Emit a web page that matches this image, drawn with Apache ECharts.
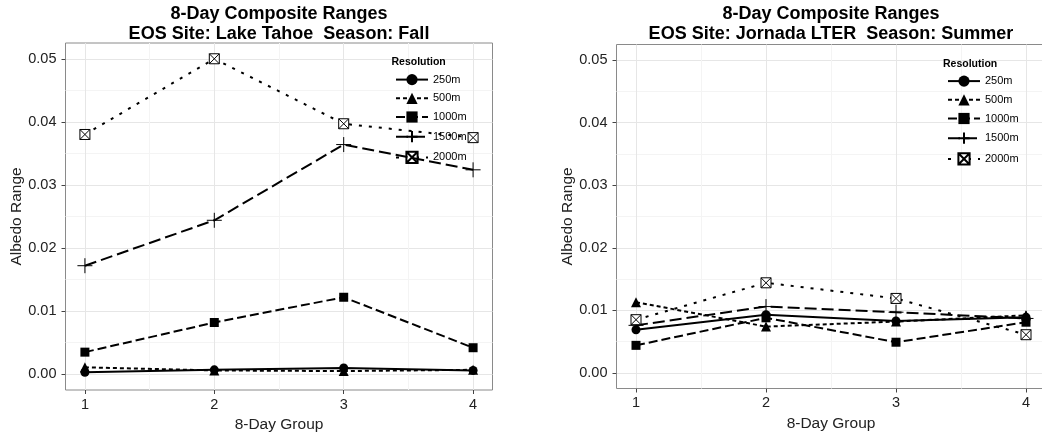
<!DOCTYPE html>
<html>
<head>
<meta charset="utf-8">
<script src="https://cdn.jsdelivr.net/npm/echarts@6/dist/echarts.min.js"></script>
<style>
  html, body { margin: 0; padding: 0; background: #ffffff; }
  #chart { width: 1042px; height: 432px; }
</style>
</head>
<body>
<div id="chart"></div>
<script>
// 8-day groups on the x axis
const groups = [1, 2, 3, 4];
const resolutions = ['250m', '500m', '1000m', '1500m', '2000m'];

// tick values (major ticks carry labels, minor ones only grid lines)
const xTicks = [1, 2, 3, 4];
const xMinorTicks = [1.5, 2.5, 3.5];
const yTicks = [0, 0.01, 0.02, 0.03, 0.04, 0.05];
const yMinorTicks = [0.005, 0.015, 0.025, 0.035, 0.045];

// Lake Tahoe, Fall: albedo range per 8-day group
const tahoe250 = [0.0003, 0.0007, 0.0010, 0.0006];
const tahoe500 = [0.0011, 0.0006, 0.0005, 0.0007];
const tahoe1000 = [0.0035, 0.0082, 0.0122, 0.0042];
const tahoe1500 = [0.0172, 0.0244, 0.0364, 0.0324];
const tahoe2000 = [0.0380, 0.0500, 0.0397, 0.0375];

// Jornada LTER, Summer: albedo range per 8-day group
const jornada250 = [0.0069, 0.0093, 0.0083, 0.0089];
const jornada500 = [0.0113, 0.0074, 0.0082, 0.0092];
const jornada1000 = [0.0044, 0.0088, 0.0049, 0.0081];
const jornada1500 = [0.0076, 0.0106, 0.0097, 0.0087];
const jornada2000 = [0.0085, 0.0144, 0.0119, 0.0061];

const panels = [
  {
    title: '8-Day Composite Ranges\nEOS Site: Lake Tahoe  Season: Fall',
    values: [tahoe250, tahoe500, tahoe1000, tahoe1500, tahoe2000]
  },
  {
    title: '8-Day Composite Ranges\nEOS Site: Jornada LTER  Season: Summer',
    values: [jornada250, jornada500, jornada1000, jornada1500, jornada2000]
  }
];

// panel geometry
const frames = [
  { left: 65.5, top: 43, width: 427, height: 347, legendLeft: 395, legendTop: 74, keyTitleLeft: 391.5, keyTitleTop: 57 },
  { left: 616.5, top: 44.5, width: 429, height: 344, legendLeft: 947, legendTop: 75.5, keyTitleLeft: 943, keyTitleTop: 59 }
];

const boxCross = 'path://M0,0L10,0L10,10L0,10ZM0,0L10,10M10,0L0,10';
const plusSign = 'path://M5,0L5,10M0,5L10,5';

const seriesLook = {
  '250m':  { symbol: 'circle',   size: 9,  dash: 'solid',  fill: '#000', border: 0 },
  '500m':  { symbol: 'triangle', size: 10, dash: [4, 3],   fill: '#000', border: 0 },
  '1000m': { symbol: 'rect',     size: 9,  dash: [9, 4],   fill: '#000', border: 0 },
  '1500m': { symbol: plusSign,   size: 15, dash: [12, 5],  fill: 'rgba(0,0,0,0)', border: 1 },
  '2000m': { symbol: boxCross,   size: 10, dash: [3, 7],   fill: '#fff', border: 1 }
};

const FONT = 'Liberation Sans, Arial, Helvetica, sans-serif';
const BORDER = '#8a8a8a';
const MAJOR = '#e6e6e6';
const MINOR = '#f4f4f4';

const grids = [], xAxes = [], yAxes = [], series = [], titles = [], legends = [];

frames.forEach((f, p) => {
  grids.push({
    left: f.left, top: f.top, width: f.width, height: f.height,
    show: true, borderColor: BORDER, borderWidth: 1, backgroundColor: '#fff',
    containLabel: false, outerBoundsMode: 'none'
  });

  // minor grid lines
  xAxes.push({
    gridIndex: p, type: 'value', min: 0.85, max: 4.15, position: 'bottom',
    axisLine: { show: false, onZero: false },
    axisTick: { show: false, customValues: xMinorTicks },
    axisLabel: { show: false },
    splitLine: { show: true, lineStyle: { color: MINOR, width: 1 } }
  });
  // major grid lines, ticks and labels
  xAxes.push({
    gridIndex: p, type: 'value', min: 0.85, max: 4.15, position: 'bottom',
    name: '8-Day Group', nameLocation: 'middle', nameGap: 18,
    nameTextStyle: { fontSize: 15.5, color: '#222', fontFamily: FONT },
    axisLine: { show: false, onZero: false },
    axisTick: { show: true, length: 4, inside: false, customValues: xTicks, lineStyle: { color: '#444' } },
    axisLabel: { show: true, customValues: xTicks, margin: 7, fontSize: 14.5, color: '#222', fontFamily: FONT,
                 formatter: v => String(Math.round(v)) },
    splitLine: { show: true, lineStyle: { color: MAJOR, width: 1 } }
  });

  yAxes.push({
    gridIndex: p, type: 'value', min: -0.0025, max: 0.0525, position: 'left',
    axisLine: { show: false, onZero: false },
    axisTick: { show: false, customValues: yMinorTicks },
    axisLabel: { show: false },
    splitLine: { show: true, lineStyle: { color: MINOR, width: 1 } }
  });
  yAxes.push({
    gridIndex: p, type: 'value', min: -0.0025, max: 0.0525, position: 'left',
    name: 'Albedo Range', nameLocation: 'middle', nameGap: p === 0 ? 40 : 36,
    nameTextStyle: { fontSize: 15.5, color: '#222', fontFamily: FONT },
    axisLine: { show: false, onZero: false },
    axisTick: { show: true, length: 4, inside: false, customValues: yTicks, lineStyle: { color: '#444' } },
    axisLabel: { show: true, customValues: yTicks, margin: 9, fontSize: 14.5, color: '#222', fontFamily: FONT,
                 formatter: v => v.toFixed(2) },
    splitLine: { show: true, lineStyle: { color: MAJOR, width: 1 } }
  });

  titles.push({
    text: panels[p].title,
    left: f.left + f.width / 2, top: 4, textAlign: 'center', padding: 0,
    textStyle: { fontSize: 18, fontWeight: 'bold', color: '#000', lineHeight: 20, fontFamily: FONT }
  });
  titles.push({
    text: 'Resolution', left: f.keyTitleLeft, top: f.keyTitleTop, padding: 0,
    textStyle: { fontSize: 10.5, fontWeight: 'bold', color: '#000', fontFamily: FONT }
  });

  legends.push({
    data: resolutions, orient: 'vertical', left: f.legendLeft, top: f.legendTop,
    padding: 0, itemWidth: 32, itemHeight: 14, itemGap: 7.5, selectedMode: false,
    textStyle: { fontSize: 11, color: '#000', fontFamily: FONT }
  });

  resolutions.forEach((r, k) => {
    const look = seriesLook[r];
    series.push({
      name: r, type: 'line',
      xAxisIndex: 2 * p + 1, yAxisIndex: 2 * p + 1,
      data: groups.map((g, i) => [g, panels[p].values[k][i]]),
      symbol: look.symbol, symbolSize: look.size, showAllSymbol: true,
      lineStyle: { color: '#000', width: 2, type: look.dash, cap: 'butt' },
      itemStyle: { color: look.fill, borderColor: '#000', borderWidth: look.border },
      emphasis: { disabled: true },
      z: 2 + k
    });
  });
});

const chart = echarts.init(document.getElementById('chart'), null, { renderer: 'canvas' });
chart.setOption({
  animation: false,
  backgroundColor: '#fff',
  textStyle: { fontFamily: FONT },
  title: titles,
  legend: legends,
  grid: grids,
  xAxis: xAxes,
  yAxis: yAxes,
  series: series
});
</script>
</body>
</html>
